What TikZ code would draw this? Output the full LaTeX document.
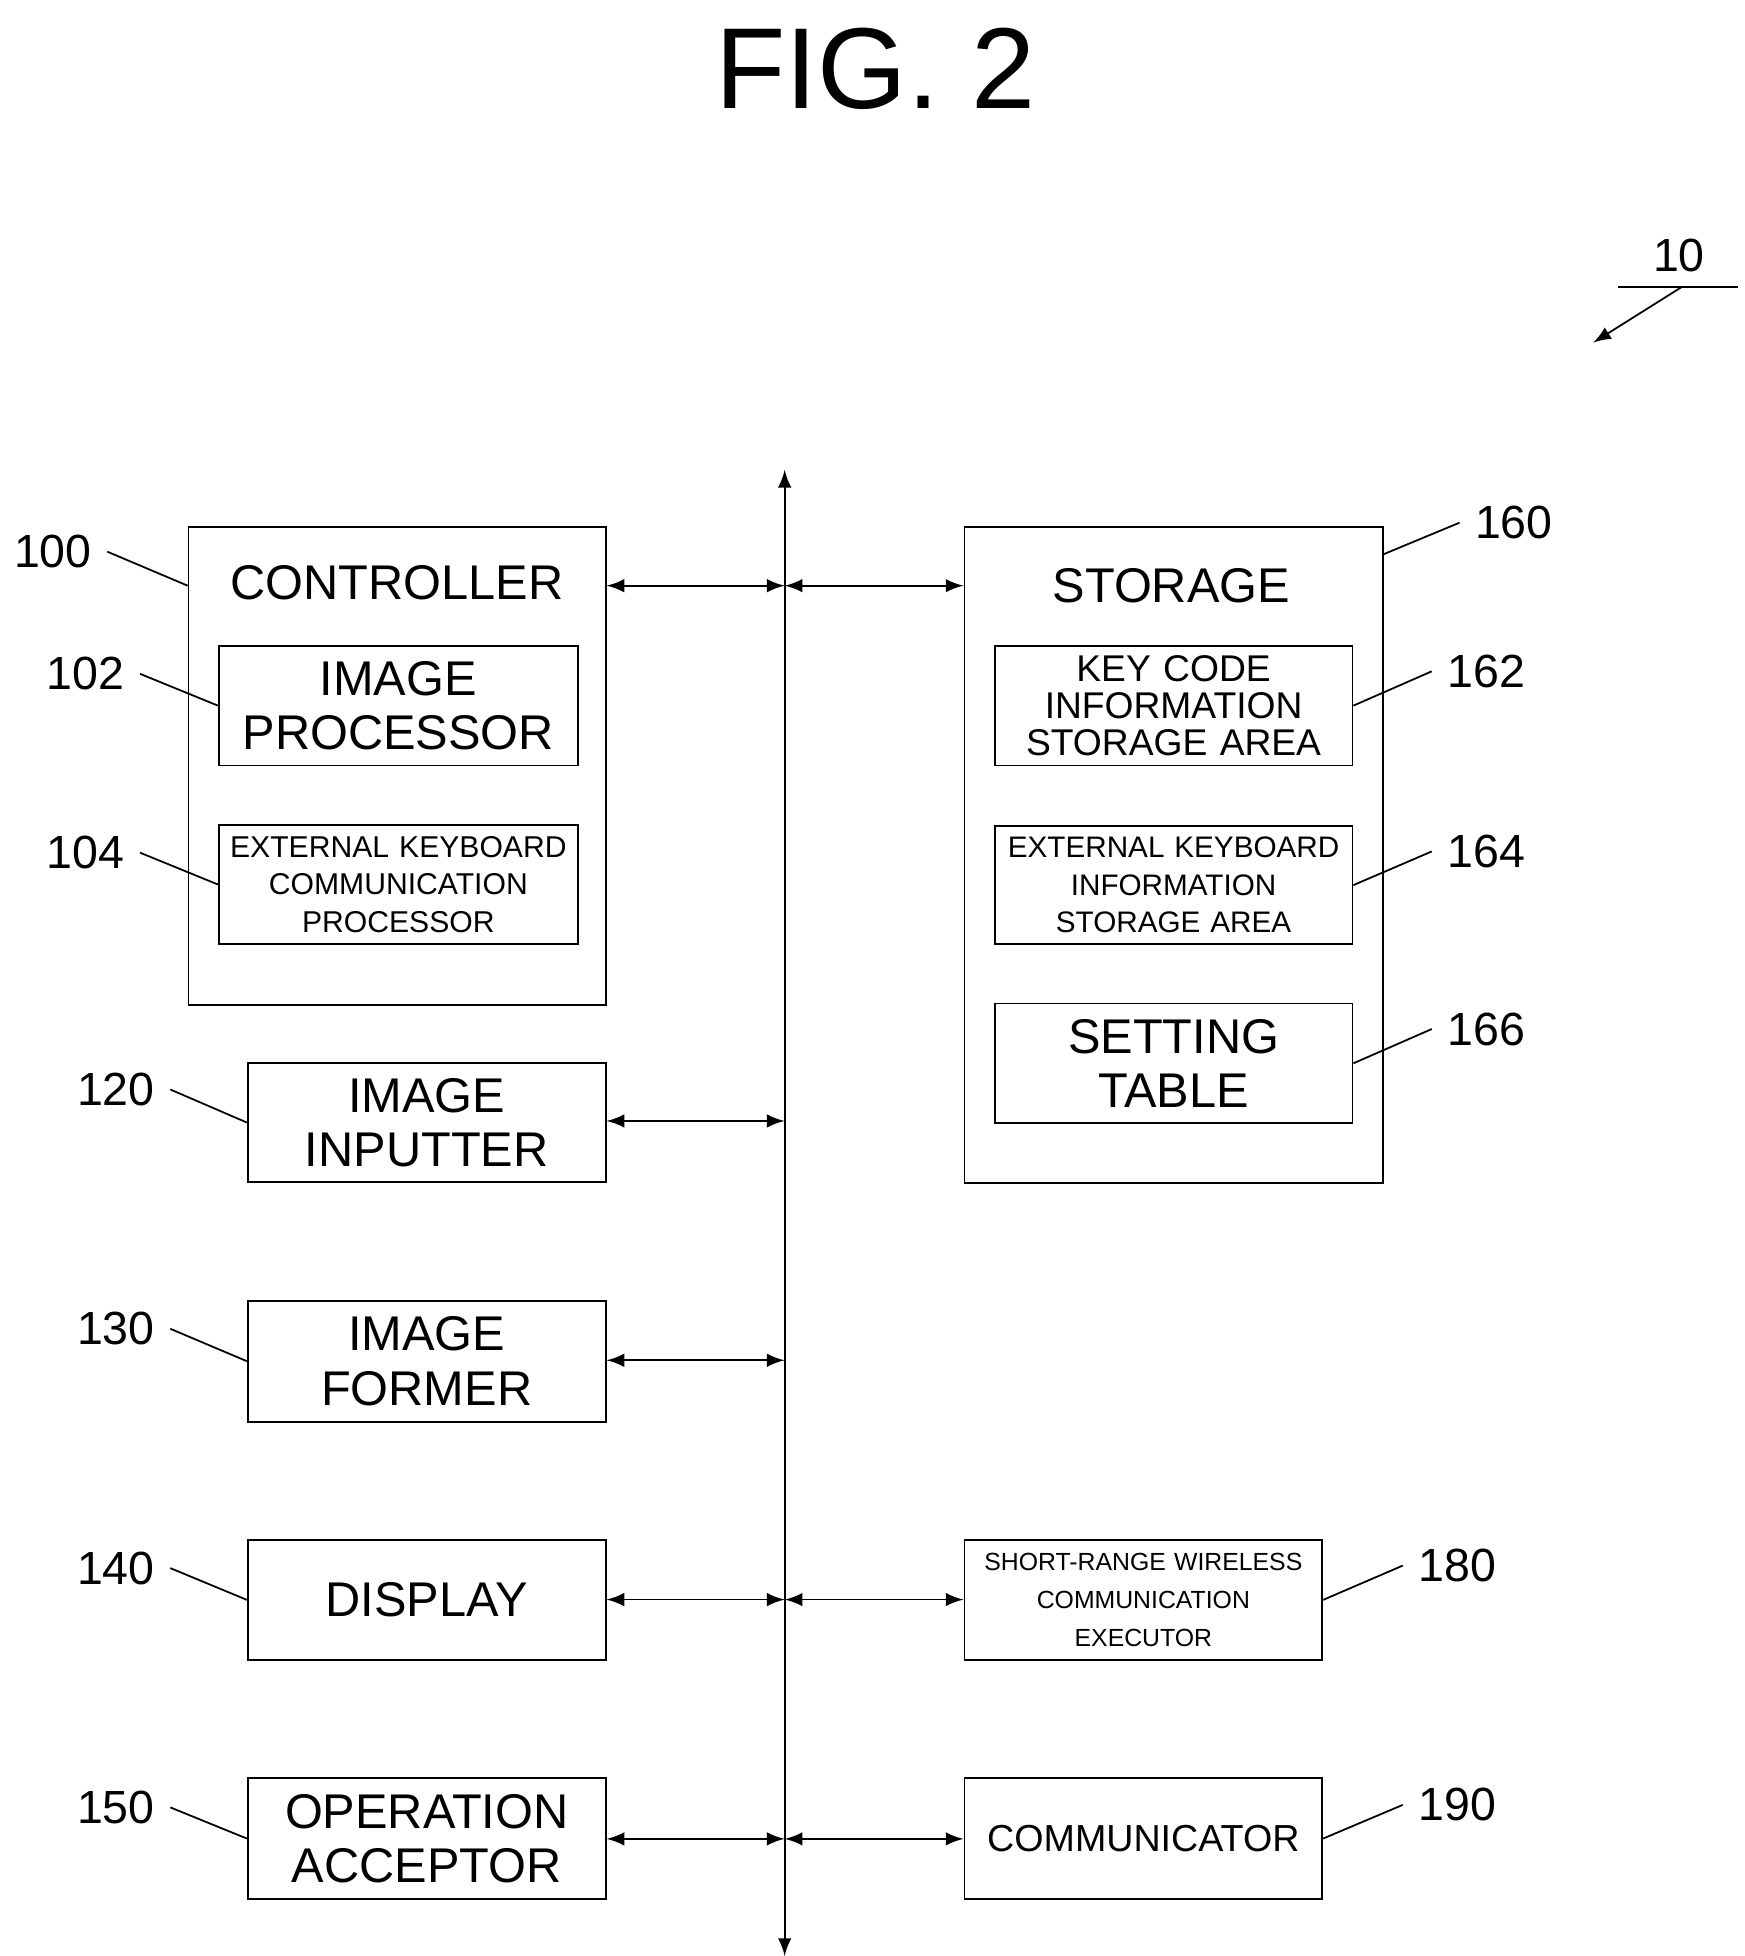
\documentclass[tikz,border=0pt]{standalone}
\usepackage{fontspec}
\setmainfont{Liberation Sans}
\usetikzlibrary{positioning}
\tikzset{
  blk/.style={draw, inner sep=0pt, anchor=north west, align=center, text width=2.84cm, minimum height=0.95cm},
  big/.style={font=\fontsize{11}{12.3}\selectfont},
  num/.style={font=\fontsize{10.5}{11}\selectfont},
  bus/.style={<->, >=latex},
}
\begin{document}
\begin{tikzpicture}[x=0.01cm,y=-0.01cm]
\useasboundingbox (0,0) rectangle (1385,1553);
\node[font=\fontsize{26}{28}\selectfont] (title) at (695,55) {FIG. 2};
%
\node[num] (n10) at (1333,203) {10};
\coordinate (u1) at (1285,228);
\coordinate (u2) at (1380,228);
\coordinate (a1) at (1335,228);
\coordinate (a2) at (1265,272);
\draw (u1) -- (u2);
\draw [->, >=latex] (a1) -- (a2);
%
\coordinate (bt) at (623,373);
\coordinate (bb) at (623,1553);
\draw [bus] (bt) -- (bb);
%
% left column
\node[blk, text width=3.31cm, minimum height=3.79cm] (ctl) at (149,418) {};
\node[big] at (315,463) {CONTROLLER};
\node[blk, big, text width=2.85cm] (ip) at (173,512) {IMAGE\\PROCESSOR};
\node[blk, text width=2.85cm, font=\fontsize{6.8}{8.5}\selectfont] (ekc) at (173,654) {EXTERNAL KEYBOARD\\COMMUNICATION\\PROCESSOR};
\node[blk, big] (inp) at (196,843) {IMAGE\\INPUTTER};
\node[blk, big, minimum height=0.96cm] (frm) at (196,1032) {IMAGE\\FORMER};
\node[blk, big] (dsp) at (196,1222) {DISPLAY};
\node[blk, big, minimum height=0.96cm] (opa) at (196,1411) {OPERATION\\ACCEPTOR};
%
% right column
\node[blk, text width=3.32cm, minimum height=5.2cm] (sto) at (765,418) {};
\node[big] at (930,465) {STORAGE};
\node[blk, font=\fontsize{8.4}{8.4}\selectfont] (kci) at (789,512) {KEY CODE\\INFORMATION\\STORAGE AREA};
\node[blk, font=\fontsize{6.7}{8.5}\selectfont, minimum height=0.94cm] (eki) at (789,655) {EXTERNAL KEYBOARD\\INFORMATION\\STORAGE AREA};
\node[blk, big] (set) at (789,796) {SETTING\\TABLE};
\node[blk, font=\fontsize{5.6}{8.5}\selectfont] (srw) at (765,1222) {SHORT-RANGE WIRELESS\\COMMUNICATION\\EXECUTOR};
\node[blk, font=\fontsize{8.5}{9}\selectfont, minimum height=0.96cm] (com) at (765,1411) {COMMUNICATOR};
%
% bus connections
\coordinate (b1) at (623,465);
\coordinate (b2) at (623,890);
\coordinate (b3) at (623,1080);
\coordinate (b4) at (623,1270);
\coordinate (b5) at (623,1460);
\draw [bus] (ctl.east |- b1) -- (b1);
\draw [bus] (b1) -- (sto.west |- b1);
\draw [bus] (inp.east |- b2) -- (b2);
\draw [bus] (frm.east |- b3) -- (b3);
\draw [bus] (dsp.east |- b4) -- (b4);
\draw [bus] (b4) -- (srw.west |- b4);
\draw [bus] (opa.east |- b5) -- (b5);
\draw [bus] (b5) -- (com.west |- b5);
%
% reference numerals
\node[num] (n100) at (42,438) {100};
\node[num] (n102) at (68,535) {102};
\node[num] (n104) at (68,677) {104};
\node[num] (n120) at (92,865) {120};
\node[num] (n130) at (92,1055) {130};
\node[num] (n140) at (92,1245) {140};
\node[num] (n150) at (92,1435) {150};
\node[num] (n160) at (1202,415) {160};
\node[num] (n162) at (1180,533) {162};
\node[num] (n164) at (1180,676) {164};
\node[num] (n166) at (1180,817) {166};
\node[num] (n180) at (1157,1243) {180};
\node[num] (n190) at (1157,1433) {190};
%
\draw (n100.east) -- (ctl.west |- 0,465);
\draw (n102.east) -- (ip.west);
\draw (n104.east) -- (ekc.west);
\draw (n120.east) -- (inp.west);
\draw (n130.east) -- (frm.west);
\draw (n140.east) -- (dsp.west);
\draw (n150.east) -- (opa.west);
\draw (n160.west) -- (sto.east |- 0,440);
\draw (n162.west) -- (kci.east);
\draw (n164.west) -- (eki.east);
\draw (n166.west) -- (set.east);
\draw (n180.west) -- (srw.east);
\draw (n190.west) -- (com.east);
\end{tikzpicture}
\end{document}
